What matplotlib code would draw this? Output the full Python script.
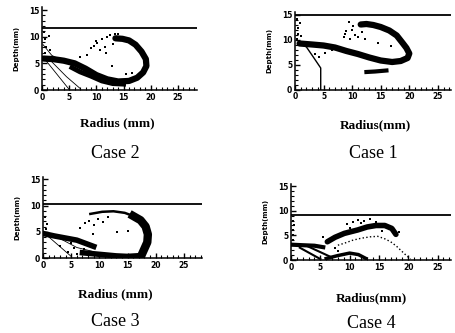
import matplotlib
matplotlib.use('Agg')
import matplotlib.pyplot as plt
from matplotlib.ticker import MultipleLocator

W, H = 456, 333

# ---- Case 2 (top left) ----
c2_level = 11.6
c2_band_x = [0.3, 2, 4, 6, 8, 10, 12, 14, 16, 17.5, 18.6, 19.2, 19.1, 18.3, 17.2, 16.0, 14.8, 13.5]
c2_band_y = [5.9, 5.8, 5.5, 5.0, 4.0, 2.8, 2.0, 1.6, 1.7, 2.3, 3.3, 4.5, 5.8, 7.2, 8.5, 9.3, 9.6, 9.7]
c2_inner_x = [5.5, 7, 9, 11, 13, 15]
c2_inner_y = [4.2, 3.4, 2.6, 1.7, 1.2, 1.1]
c2_thin = [([0.5, 5.0], [5.8, 0.1]), ([1.5, 4.5, 7.0], [5.6, 2.5, 0.3]), ([0.2, 1.8, 3.5], [8.5, 6.5, 5.6])]
c2_dots_x = [0.5, 0.8, 0.6, 1.2, 0.4, 1.5, 9.5, 10.2, 11, 11.5, 12, 12.5, 13, 10.6, 9, 8.2, 11.8, 14, 16.5, 7, 12.8, 15.5, 10, 13.5]
c2_dots_y = [7, 8, 9.5, 10.2, 10.8, 7.5, 8.3, 8.8, 9.5, 8.1, 9.9, 10.3, 8.6, 7.5, 7.8, 6.5, 6.9, 10.5, 3.2, 6.2, 4.5, 3.0, 9.2, 10.6]

# ---- Case 1 (top right) ----
c1_level = 14.9
c1_band_x = [0.8, 3, 5, 7, 9, 11, 13, 15, 17, 18.5, 19.7, 20, 19.5, 18.9, 17.8, 16.5, 15, 13.7, 12.5, 11.5]
c1_band_y = [9.2, 9.0, 8.8, 8.4, 7.7, 7.1, 6.4, 5.8, 5.5, 5.7, 6.3, 7.2, 8.3, 9.2, 10.8, 11.8, 12.5, 12.9, 13.1, 13.0]
c1_patch_x = [12.5, 14, 16]
c1_patch_y = [3.5, 3.6, 3.8]
c1_thin_x = [1.0, 2.0, 3.2, 4.5, 4.5]
c1_thin_y = [9.2, 8.5, 6.5, 4.3, 0.0]
c1_dots_x = [0.4, 0.6, 0.5, 0.8, 0.4, 1.0, 8.7, 9.6, 9.0, 10.0, 10.5, 11.0, 8.5, 10.2, 9.5, 11.8, 3.5, 4.2, 5.2, 6.5, 12.3, 14.5, 16.8]
c1_dots_y = [10.2, 11.2, 12.3, 13.4, 14.2, 10.8, 11.2, 10.2, 11.8, 12.0, 11.0, 10.5, 10.5, 12.8, 13.5, 11.6, 7.2, 6.5, 7.4, 8.0, 10.2, 9.4, 8.8]

# ---- Case 3 (bottom left) ----
c3_level = 10.2
c3_upper_x = [0.3, 2, 4, 6, 8, 9]
c3_upper_y = [4.6, 4.2, 3.8, 3.4, 2.6, 2.2]
c3_lower_x = [7, 9, 11, 13, 15, 16.5]
c3_lower_y = [1.0, 0.8, 0.6, 0.4, 0.3, 0.4]
c3_arc_x = [8.4, 10.5, 12.5, 14.5, 16.0, 17.3, 18.2, 18.6, 18.5, 18.0, 17.5]
c3_arc_y = [8.4, 8.8, 8.9, 8.6, 8.0, 7.2, 6.0, 4.5, 3.0, 1.8, 0.6]
c3_thin = [([0.4, 5.0], [4.6, 0.3]), ([2.5, 6.0, 9.0], [4.0, 2.0, 1.2])]
c3_dots_x = [0.5, 0.7, 0.4, 6.6, 7.5, 8.2, 9.0, 9.8, 10.7, 8.8, 11.5, 13.2, 5.5, 4.5, 6.0, 7.2, 3.0, 5.0, 15.0]
c3_dots_y = [5.5, 6.5, 7.8, 5.8, 6.6, 7.1, 6.2, 7.4, 6.9, 4.6, 7.8, 5.0, 2.0, 1.2, 0.8, 1.8, 2.2, 2.8, 5.2]

# ---- Case 4 (bottom right) ----
c4_level = 9.2
c4_arc_x = [6.2, 7.5, 9.1, 11.4, 13.0, 14.5, 16.0, 17.2, 17.9]
c4_arc_y = [3.7, 4.6, 5.4, 6.1, 6.7, 7.0, 7.0, 6.4, 5.2]
c4_inner_x = [8, 9.1, 10.5, 11.9, 13.5, 14.8, 16.0, 17.0, 18.0, 18.7, 19.6, 20.4]
c4_inner_y = [3.0, 3.4, 4.0, 4.4, 4.7, 4.8, 4.3, 3.7, 2.8, 2.0, 1.0, 0.2]
c4_left_x = [0.2, 2, 4, 5.5]
c4_left_y = [3.1, 3.0, 2.9, 2.6]
c4_hump_x = [6.0, 8.0, 10.0, 11.5, 12.8]
c4_hump_y = [0.3, 0.9, 1.4, 1.1, 0.3]
c4_thin = [([1.5, 5.0], [2.5, 0.2]), ([3.0, 7.0], [2.7, 0.5])]
c4_dots_x = [0.3, 0.4, 0.3, 0.5, 0.3, 9.6, 10.5, 11.5, 12.5, 13.5, 14.5, 12.0, 10.0, 18.5, 7.5, 8.0, 5.5, 15.5]
c4_dots_y = [4.0, 5.0, 6.0, 7.0, 8.0, 7.3, 7.8, 8.2, 8.0, 8.3, 7.8, 7.5, 6.5, 5.6, 2.5, 1.8, 4.6, 5.9]

ticks = [0, 5, 10, 15, 20, 25]

fig = plt.figure(figsize=(W / 100, H / 100), dpi=100)


def make_axes(left, right, bottom, ppu_y, xmax):
    top = bottom - 15.5 * ppu_y
    ax = fig.add_axes([left / W, 1 - bottom / H, (right - left) / W, (bottom - top) / H])
    ax.set_xlim(0, xmax)
    ax.set_ylim(0, 15.5)
    for s in ['top', 'right']:
        ax.spines[s].set_visible(False)
    for s in ['left', 'bottom']:
        ax.spines[s].set_linewidth(1.1)
    ax.set_xticks(ticks)
    ax.set_yticks([0, 5, 10, 15])
    ax.xaxis.set_minor_locator(MultipleLocator(1))
    ax.yaxis.set_minor_locator(MultipleLocator(1))
    ax.tick_params(which='major', direction='in', length=3.5, width=1.0, labelsize=5.5, pad=2)
    ax.tick_params(which='minor', direction='in', length=2, width=0.8)
    for lab in ax.get_xticklabels() + ax.get_yticklabels():
        lab.set_fontweight('bold')
    ax.set_ylabel('Depth(mm)', fontsize=5, fontweight='bold', labelpad=7)
    return ax


def draw_level(ax, y):
    ax.axhline(y, color='black', lw=1.3)


def draw_dots(ax, xs, ys):
    ax.scatter(xs, ys, s=2.5, marker='s', color='black', linewidths=0)


# Case 2
ax = make_axes(42, 197, 90, 5.33, 28.5)
draw_level(ax, c2_level)
ax.plot(c2_band_x, c2_band_y, color='black', lw=4.5, solid_capstyle='round')
ax.plot(c2_inner_x, c2_inner_y, color='black', lw=3.5)
for tx, ty in c2_thin:
    ax.plot(tx, ty, color='black', lw=0.6)
draw_dots(ax, c2_dots_x, c2_dots_y)

# Case 1
ax = make_axes(295, 451, 89.5, 5.0, 27.3)
draw_level(ax, c1_level)
ax.plot(c1_band_x, c1_band_y, color='black', lw=4.5, solid_capstyle='round')
ax.plot(c1_patch_x, c1_patch_y, color='black', lw=3)
ax.plot(c1_thin_x, c1_thin_y, color='black', lw=1.0)
draw_dots(ax, c1_dots_x, c1_dots_y)

# Case 3
ax = make_axes(43, 202, 258, 5.25, 28.2)
draw_level(ax, c3_level)
ax.plot(c3_upper_x, c3_upper_y, color='black', lw=4)
ax.plot(c3_lower_x, c3_lower_y, color='black', lw=4)
ax.plot(c3_arc_x[:5], c3_arc_y[:5], color='black', lw=1.8)
ax.plot(c3_arc_x[4:], c3_arc_y[4:], color='black', lw=6)
for tx, ty in c3_thin:
    ax.plot(tx, ty, color='black', lw=0.6)
draw_dots(ax, c3_dots_x, c3_dots_y)

# Case 4
ax = make_axes(291, 451, 260, 4.93, 27.3)
draw_level(ax, c4_level)
ax.plot(c4_arc_x, c4_arc_y, color='black', lw=4, solid_capstyle='round')
ax.plot(c4_inner_x, c4_inner_y, color='black', lw=1.0, ls=':')
ax.plot(c4_left_x, c4_left_y, color='black', lw=3)
ax.plot(c4_hump_x, c4_hump_y, color='black', lw=2.5)
for tx, ty in c4_thin:
    ax.plot(tx, ty, color='black', lw=1.5)
draw_dots(ax, c4_dots_x, c4_dots_y)

# labels under each panel
labels = [('Radius (mm)', 117, 123, 'Case 2', 115, 153),
          ('Radius(mm)', 375, 125, 'Case 1', 373, 154),
          ('Radius (mm)', 115, 294, 'Case 3', 115, 322),
          ('Radius(mm)', 371, 298, 'Case 4', 371, 323)]
for xl, xx, xy, cl, cx, cy in labels:
    fig.text(xx / W, 1 - xy / H, xl, ha='center', va='center',
             family='Liberation Serif', fontsize=9.5, fontweight='bold')
    fig.text(cx / W, 1 - cy / H, cl, ha='center', va='center',
             family='Liberation Serif', fontsize=13)

plt.savefig('out.png', dpi=100)
